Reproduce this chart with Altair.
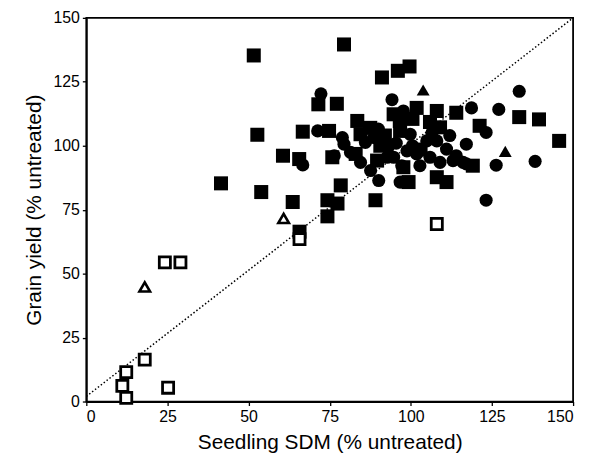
import altair as alt
import pandas as pd

# Filled squares
sq_x = [51.6, 79.4, 91.1, 96.0, 99.6, 71.5, 77.2, 52.7, 66.7, 74.8, 60.6, 65.6, 75.8, 41.5, 53.9,
        63.6, 74.3, 77.4, 74.3, 78.4, 65.7, 83.5, 94.7, 96.6, 84.5, 90.6, 83.0, 89.6, 97.7, 101.8,
        108.0, 114.0, 96.7, 105.9, 109.0, 119.1, 121.2, 133.4, 139.5, 145.7, 89.1, 99.3, 108.0, 111.0,
        92.0, 100.5, 103.0, 87.5]
sq_y = [135.3, 139.6, 126.7, 129.3, 131.0, 116.2, 116.4, 104.3, 105.5, 105.8, 96.1, 94.8, 95.5, 85.3, 81.9,
        78.0, 78.7, 77.4, 72.4, 84.5, 66.4, 109.7, 112.3, 109.7, 104.5, 100.0, 96.8, 94.2, 91.6, 114.8,
        113.6, 112.9, 105.8, 109.3, 107.2, 92.2, 107.8, 111.2, 110.3, 101.9, 78.7, 85.8, 87.7, 85.8,
        104.0, 110.5, 98.5, 107.0]

# Filled circles
ci_x = [72.3, 94.2, 71.3, 66.7, 78.9, 86.0, 88.6, 76.4, 81.4, 84.5, 87.6, 92.7, 94.7, 97.2, 97.7,
        99.8, 104.9, 108.0, 111.0, 117.1, 114.0, 105.9, 101.8, 98.8, 116.1, 109.0, 102.8, 118.7, 127.1,
        133.4, 123.2, 138.3, 126.3, 117.1, 123.2, 90.1, 96.7, 113.0, 79.4,
        93.0, 100.5, 106.5, 112.0, 95.5, 90.0]
ci_y = [120.3, 118.0, 105.8, 92.5, 103.2, 101.3, 103.2, 96.1, 97.4, 93.5, 90.3, 95.5, 95.5, 92.2, 113.6,
        104.5, 101.9, 101.9, 98.7, 100.6, 96.1, 95.5, 96.8, 98.0, 93.5, 93.5, 92.2, 114.8, 114.2,
        121.3, 105.2, 93.9, 92.4, 92.9, 78.7, 86.4, 85.8, 94.2, 100.6,
        99.5, 100.0, 105.0, 104.0, 101.0, 106.5]

# Filled triangles
tr_x = [103.8, 129.1]
tr_y = [121.8, 97.8]

# Open squares
osq_x = [24.2, 29.0, 18.0, 12.3, 11.1, 12.3, 25.2, 65.7, 108.0]
osq_y = [54.4, 54.4, 16.4, 11.5, 6.1, 1.4, 5.4, 63.5, 69.4]

# Open triangles
otr_x = [18.0, 60.8]
otr_y = [44.8, 71.6]

# 1:1 reference line
line_x = [0, 150]
line_y = [2, 150]

ticks = [0, 25, 50, 75, 100, 125, 150]

xs = alt.Scale(domain=[0, 150], nice=False)
ys = alt.Scale(domain=[0, 150], nice=False)

X = alt.X("x:Q", scale=xs, title="Seedling SDM (% untreated)",
          axis=alt.Axis(values=ticks, format="d"))
Y = alt.Y("y:Q", scale=ys, title="Grain yield (% untreated)",
          axis=alt.Axis(values=ticks, format="d"))

def df(xv, yv):
    return pd.DataFrame({"x": xv, "y": yv})

line = alt.Chart(df(line_x, line_y)).mark_line(
    color="black", strokeWidth=1.5, strokeDash=[1.5, 2.2]
).encode(x=X, y=Y)

squares = alt.Chart(df(sq_x, sq_y)).mark_point(
    shape="square", filled=True, color="black", opacity=1, size=200
).encode(x=X, y=Y)

circles = alt.Chart(df(ci_x, ci_y)).mark_point(
    shape="circle", filled=True, color="black", opacity=1, size=175
).encode(x=X, y=Y)

tris = alt.Chart(df(tr_x, tr_y)).mark_point(
    shape="triangle-up", filled=True, color="black", opacity=1, size=170
).encode(x=X, y=Y)

osq = alt.Chart(df(osq_x, osq_y)).mark_point(
    shape="square", filled=False, fill="white", fillOpacity=1, stroke="black",
    strokeWidth=2.8, opacity=1, size=125
).encode(x=X, y=Y)

otr = alt.Chart(df(otr_x, otr_y)).mark_point(
    shape="triangle-up", filled=False, fill="white", fillOpacity=1, stroke="black",
    strokeWidth=2.6, opacity=1, size=115
).encode(x=X, y=Y)

chart = alt.layer(line, squares, circles, tris, osq, otr).properties(
    width=491, height=387,
    autosize=alt.AutoSizeParams(type="none"),
    padding={"left": 79, "top": 8, "right": 10, "bottom": 53},
).configure_view(
    stroke="black", strokeWidth=1.8
).configure_axis(
    grid=False, domainColor="black", domainWidth=1.8, tickColor="black", tickSize=4,
    tickWidth=1.3, labelColor="black", labelFont="Liberation Sans", labelFontSize=16,
    titleFont="Liberation Sans", titleFontSize=21, titleFontWeight="normal", titleColor="black",
    labelPadding=3
).configure_axisX(
    titlePadding=7
).configure_axisY(
    titlePadding=9
)

chart.save("out.html", embed_options={"renderer": "svg", "actions": False})
